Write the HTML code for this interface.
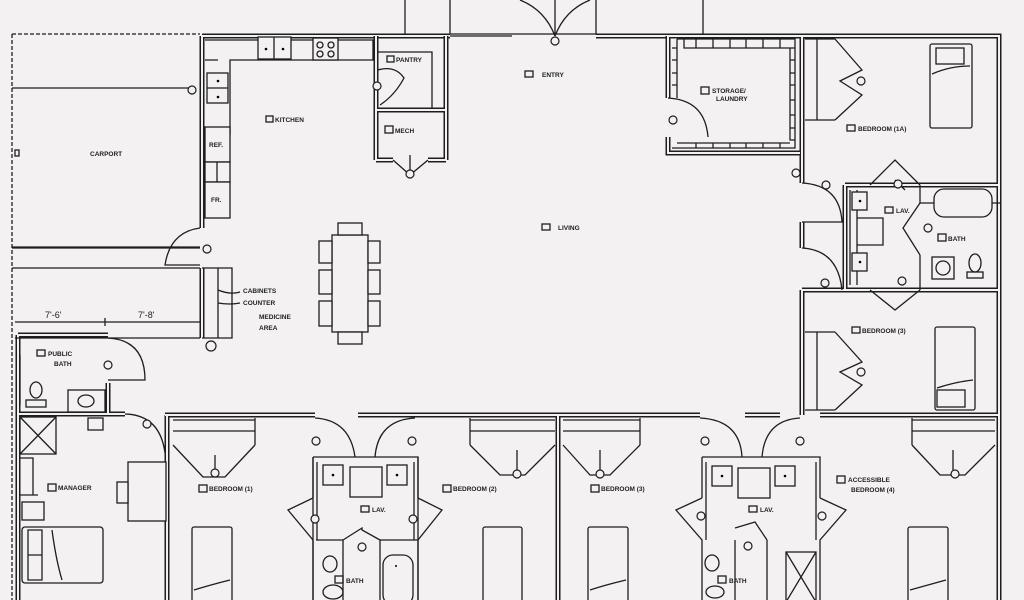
<!DOCTYPE html>
<html><head><meta charset="utf-8"><style>
html,body{margin:0;padding:0;background:#f3f1f2}
svg{display:block}
.w{fill:none;stroke:#1e1e1e;stroke-width:5;stroke-linejoin:miter}
.wi{fill:none;stroke:#f3f1f2;stroke-width:2}
.l{fill:none;stroke:#1e1e1e;stroke-width:1.3}
.d{fill:none;stroke:#1e1e1e;stroke-width:1.3;stroke-dasharray:4 2}
.f{fill:#f3f1f2;stroke:#1e1e1e;stroke-width:1.3}
text{font-family:"Liberation Sans",sans-serif;font-size:6.5px;fill:#1e1e1e;font-weight:bold}
.c{fill:#f3f1f2;stroke:#1e1e1e;stroke-width:1.2}
</style></head><body>
<svg width="1024" height="600" viewBox="0 0 1024 600" xmlns="http://www.w3.org/2000/svg">
<path class="l" d="M405 0V34M450 0V34M596 0V34M703 0V34M450 34H596"/>
<path class="l" d="M450 36H512M555 36Q545 10 520 0M555 36Q565 10 590 0M555 0V36"/>
<circle class="c" cx="555" cy="41" r="4"/>
<path class="d" d="M12 34H200M12 34V600"/>
<path class="l" d="M12 88H190M12 247H200M12 268H200M15 322H200M105 318V326"/>
<text x="90" y="156">CARPORT</text>
<text x="45" y="318" style="font-size:9px;font-weight:normal">7'-6'</text>
<text x="138" y="318" style="font-size:9px;font-weight:normal">7'-8'</text>
<rect class="l" x="15" y="150" width="4" height="6"/>
<path class="w" d="M202 36H450M596 36H999V600M202 36V228M202 268V338M18 335H108M18 335V600M18 414H125M165 415H315M358 415H418M418 415H560M560 415H700M745 415H780M820 415H999M802 36V183M802 222V248M802 290V415M802 290H999M845 185V290M845 185H999M108 383V414M167 415V600M558 415V600"/>
<path class="wi" d="M202 36H450M596 36H999V600M202 36V228M202 268V338M18 335H108M18 335V600M18 414H125M165 415H315M358 415H418M418 415H560M560 415H700M745 415H780M820 415H999M802 36V183M802 222V248M802 290V415M802 290H999M845 185V290M845 185H999M108 383V414M167 415V600M558 415V600"/>
<path class="l" d="M15 338H200M202 338H232V268H202"/>
<path class="l" d="M205 40H373V60H230V135M205 60H218"/>
<rect class="f" x="258" y="37" width="33" height="22"/><path class="l" d="M274 37V59"/>
<circle cx="266" cy="49" r="1.3"/><circle cx="283" cy="49" r="1.3"/>
<rect class="f" x="313" y="38" width="25" height="22"/>
<circle class="l" cx="320" cy="45" r="3"/><circle class="l" cx="331" cy="45" r="3"/><circle class="l" cx="320" cy="54" r="3"/><circle class="l" cx="331" cy="54" r="3"/>
<rect class="f" x="207" y="73" width="21" height="30"/><path class="l" d="M207 88H228"/>
<circle cx="218" cy="81" r="1.3"/><circle cx="218" cy="97" r="1.3"/>
<circle class="c" cx="192" cy="90" r="4"/>
<rect class="f" x="205" y="127" width="25" height="35"/><text x="209" y="147">REF.</text>
<rect class="f" x="205" y="162" width="25" height="20"/><path class="l" d="M217 162V182"/>
<rect class="f" x="205" y="182" width="25" height="36"/><text x="211" y="202">FR.</text>
<rect class="l" x="266" y="116" width="7" height="6"/><text x="275" y="122">KITCHEN</text>
<path class="l" d="M200 228Q170 232 165 265H200M200 248H12"/>
<circle class="c" cx="207" cy="249" r="4"/>
<path class="l" d="M218 268V338M218 290Q230 295 240 292M218 303Q230 305 240 303"/>
<text x="243" y="293">CABINETS</text><text x="243" y="305">COUNTER</text>
<text x="259" y="319">MEDICINE</text><text x="259" y="330">AREA</text>
<circle class="c" cx="211" cy="346" r="5"/>
<rect class="f" x="332" y="235" width="36" height="97"/>
<rect class="f" x="338" y="223" width="24" height="12"/><rect class="f" x="338" y="332" width="24" height="12"/>
<rect class="f" x="319" y="241" width="13" height="22"/><rect class="f" x="319" y="270" width="13" height="24"/><rect class="f" x="319" y="301" width="13" height="25"/>
<rect class="f" x="368" y="241" width="12" height="22"/><rect class="f" x="368" y="270" width="12" height="24"/><rect class="f" x="368" y="301" width="12" height="25"/>
<path class="w" d="M376 36V160M446 36V160M376 110H446M376 160H393M428 160H446"/>
<path class="wi" d="M376 36V160M446 36V160M376 110H446M376 160H393M428 160H446"/>
<path class="l" d="M378 52H432V108M378 70Q395 65 404 78Q395 95 380 105"/>
<rect class="l" x="387" y="56" width="7" height="6"/><text x="396" y="62">PANTRY</text>
<circle class="c" cx="377" cy="86" r="4"/>
<rect class="l" x="385" y="126" width="8" height="7"/><text x="395" y="133">MECH</text>
<path class="l" d="M393 160L410 175L428 160M410 155V170"/><circle class="c" cx="410" cy="174" r="4"/>
<rect class="l" x="525" y="71" width="8" height="6"/><text x="542" y="77">ENTRY</text>
<rect class="l" x="542" y="224" width="8" height="6"/><text x="558" y="230">LIVING</text>
<path class="w" d="M668 36V98M668 137V153H800M668 36H800"/><path class="wi" d="M668 36V98M668 137V153H800M668 36H800"/>
<path class="l" d="M677 39H795V148H672M677 39V98M672 48H677M672 60H677M672 73H677M672 85H677M795 48H790V140H795M677 143H790M684 39V48H790M696 39V48M713 39V48M730 39V48M746 39V48M763 39V48M780 39V48M696 143V148M713 143V148M730 143V148M746 143V148M763 143V148M780 143V148M790 60H795M790 73H795M790 85H795M790 100H795M790 115H795M790 128H795"/>
<path class="l" d="M668 98Q705 100 708 137"/>
<circle class="c" cx="673" cy="120" r="4"/>
<rect class="l" x="701" y="87" width="8" height="7"/><text x="712" y="93">STORAGE/</text><text x="716" y="101">LAUNDRY</text>
<circle class="c" cx="796" cy="173" r="4"/>
<path class="l" d="M805 39H835M805 120H835M817 39V120M835 39L862 70L840 81L862 95L835 120"/>
<circle class="c" cx="861" cy="81" r="4"/>
<rect class="f" x="930" y="44" width="42" height="84" rx="2"/><rect class="l" x="936" y="48" width="28" height="16"/><path class="l" d="M932 74Q950 66 970 66"/>
<rect class="l" x="847" y="125" width="8" height="6"/><text x="858" y="131">BEDROOM (1A)</text>
<path class="l" d="M802 183Q840 185 842 222H802"/><circle class="c" cx="826" cy="185" r="4"/>
<path class="l" d="M850 190V285M857 190V285M857 218H883V245H857M870 185L895 160L920 185M895 180L905 190"/>
<rect class="f" x="852" y="192" width="15" height="18"/><circle cx="860" cy="201" r="1.3"/>
<rect class="f" x="852" y="253" width="15" height="18"/><circle cx="860" cy="262" r="1.3"/>
<circle class="c" cx="898" cy="184" r="4"/><circle class="c" cx="902" cy="281" r="4"/>
<rect class="l" x="885" y="207" width="8" height="6"/><text x="896" y="213">LAV.</text>
<path class="l" d="M920 185V203M920 255V290M920 203L903 228L920 255M920 203H1000M870 290L895 310L920 290"/>
<rect class="f" x="934" y="189" width="58" height="28" rx="10"/>
<circle class="c" cx="928" cy="228" r="4"/>
<rect class="l" x="938" y="234" width="8" height="7"/><text x="948" y="241">BATH</text>
<rect class="f" x="932" y="257" width="22" height="22"/><circle class="l" cx="943" cy="268" r="7"/>
<ellipse class="l" cx="975" cy="263" rx="6" ry="9"/><rect class="l" x="967" y="272" width="16" height="6"/>
<path class="l" d="M802 248Q838 250 842 290"/><circle class="c" cx="825" cy="283" r="4"/>
<path class="l" d="M805 332H835M805 410H835M817 332V410M835 332L862 362L840 372L862 385L835 410"/><circle class="c" cx="861" cy="372" r="4"/>
<rect class="f" x="935" y="327" width="40" height="83" rx="2"/><rect class="l" x="937" y="390" width="28" height="17"/><path class="l" d="M937 388Q955 382 973 380"/>
<rect class="l" x="852" y="327" width="8" height="6"/><text x="862" y="333">BEDROOM (3)</text>
<path class="l" d="M108 338Q145 340 145 380H108"/><circle class="c" cx="108" cy="365" r="4"/>
<rect class="l" x="37" y="350" width="8" height="6"/><text x="48" y="356">PUBLIC</text><text x="54" y="366">BATH</text>
<ellipse class="l" cx="36" cy="390" rx="6" ry="8"/><rect class="l" x="26" y="400" width="20" height="7"/>
<rect class="f" x="68" y="390" width="37" height="22"/><ellipse class="l" cx="86" cy="401" rx="8" ry="6"/>
<path class="l" d="M20 355V405"/>
<rect class="f" x="20" y="417" width="36" height="37"/><path class="l" d="M20 417L56 454M56 417L20 454"/>
<rect class="f" x="88" y="418" width="15" height="12"/>
<path class="l" d="M125 414Q160 415 165 453"/><circle class="c" cx="147" cy="424" r="4"/>
<path class="l" d="M20 458H33V495M20 495H38"/>
<rect class="f" x="128" y="462" width="38" height="59"/><rect class="f" x="117" y="482" width="11" height="21"/>
<rect class="l" x="48" y="484" width="8" height="7"/><text x="58" y="490">MANAGER</text>
<rect class="l" x="22" y="502" width="22" height="18"/>
<rect class="f" x="22" y="527" width="81" height="56" rx="3"/><path class="l" d="M28 530V580H42V530ZM28 555H42M52 530Q56 560 62 580"/>
<path class="l" d="M173 431H255M173 420H255M255 418V445M173 445L203 477L225 477L255 445M215 455V475"/><circle class="c" cx="215" cy="473" r="4"/>
<rect class="l" x="199" y="485" width="8" height="7"/><text x="209" y="491">BEDROOM (1)</text>
<rect class="f" x="192" y="527" width="40" height="75" rx="2"/><path class="l" d="M194 590Q210 585 230 580"/>
<path class="l" d="M315 418Q350 420 355 457"/><circle class="c" cx="316" cy="441" r="4"/>
<path class="l" d="M375 457Q378 420 415 418"/><circle class="c" cx="412" cy="441" r="4"/>
<path class="l" d="M313 457H418V498M313 457V498M313 498L288 510L313 540V600M418 498L442 510L418 540V600M343 540V600M380 540V600M343 540L362 528V530L380 540"/>
<path class="l" d="M313 457V600M418 457V600M317 462V540M414 462V540M316 540H343M380 540H418"/>
<rect class="f" x="323" y="465" width="20" height="20"/><circle cx="333" cy="475" r="1.3"/>
<rect class="f" x="387" y="465" width="20" height="20"/><circle cx="397" cy="475" r="1.3"/>
<rect class="l" x="350" y="467" width="32" height="30"/>
<circle class="c" cx="315" cy="519" r="4"/><circle class="c" cx="413" cy="519" r="4"/><circle class="c" cx="362" cy="547" r="4"/>
<rect class="l" x="361" y="506" width="8" height="6"/><text x="372" y="512">LAV.</text>
<ellipse class="l" cx="330" cy="564" rx="7" ry="8"/><ellipse class="l" cx="333" cy="592" rx="10" ry="7"/>
<rect class="l" x="335" y="576" width="8" height="7"/><text x="346" y="583">BATH</text>
<rect class="f" x="383" y="555" width="30" height="50" rx="10"/><circle cx="396" cy="566" r="1"/>
<path class="l" d="M470 431H555M470 420H555M470 418V445M470 445L500 475L525 475L555 445M517 450V470"/><circle class="c" cx="517" cy="474" r="4"/>
<rect class="l" x="443" y="485" width="8" height="7"/><text x="453" y="491">BEDROOM (2)</text>
<rect class="f" x="483" y="527" width="39" height="75" rx="2"/>
<path class="l" d="M563 431H640M563 420H640M640 418V445M563 445L590 475L610 475L640 445M600 450V470"/><circle class="c" cx="600" cy="474" r="4"/>
<rect class="l" x="591" y="485" width="8" height="7"/><text x="601" y="491">BEDROOM (3)</text>
<rect class="f" x="588" y="527" width="40" height="75" rx="2"/><path class="l" d="M590 590Q605 585 626 580"/>
<path class="l" d="M700 418Q740 420 742 457"/><circle class="c" cx="705" cy="441" r="4"/>
<path class="l" d="M762 457Q765 420 800 418"/><circle class="c" cx="800" cy="441" r="4"/>
<path class="l" d="M702 457H820V498M702 457V498M702 498L676 510L702 540V600M820 498L846 510L820 540V600M735 540V600M767 540V600M735 528L755 522L767 540M706 462V540M816 462V540"/>
<rect class="f" x="712" y="466" width="20" height="20"/><circle cx="722" cy="476" r="1.3"/>
<rect class="f" x="775" y="466" width="20" height="20"/><circle cx="785" cy="476" r="1.3"/>
<rect class="l" x="738" y="468" width="32" height="30"/>
<circle class="c" cx="701" cy="516" r="4"/><circle class="c" cx="822" cy="516" r="4"/><circle class="c" cx="748" cy="546" r="4"/>
<rect class="l" x="749" y="506" width="8" height="6"/><text x="760" y="512">LAV.</text>
<ellipse class="l" cx="712" cy="563" rx="7" ry="8"/><ellipse class="l" cx="715" cy="592" rx="9" ry="6"/>
<rect class="l" x="718" y="576" width="8" height="7"/><text x="729" y="583">BATH</text>
<rect class="l" x="786" y="552" width="30" height="50"/><path class="l" d="M786 552L816 602M816 552L786 602"/>
<path class="l" d="M912 431H995M912 420H995M912 418V445M912 445L940 475L965 475L995 445M953 450V470"/><circle class="c" cx="955" cy="474" r="4"/>
<rect class="l" x="837" y="476" width="8" height="7"/><text x="848" y="482">ACCESSIBLE</text><text x="851" y="492">BEDROOM (4)</text>
<rect class="f" x="908" y="527" width="40" height="75" rx="2"/><path class="l" d="M910 590Q928 585 946 580"/>
</svg>
</body></html>
